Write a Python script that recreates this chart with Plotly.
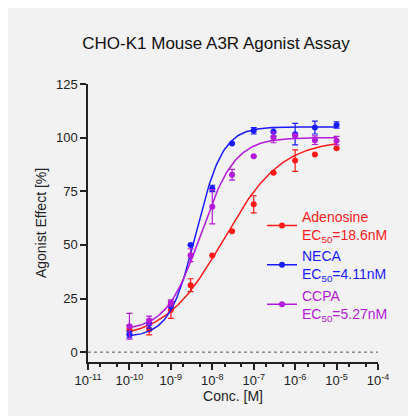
import numpy as np
import plotly.graph_objects as go

conc = [1e-10, 3e-10, 1e-9, 3e-9, 1e-8, 3e-8, 1e-7, 3e-7, 1e-6, 3e-6, 1e-5]

adenosine = [10.5, 10.5, 19.7, 31.2, 45.0, 56.3, 68.9, 83.6, 89.3, 92.1, 95.0]
adenosine_err = [2.0, 2.5, 4.0, 3.0, 0, 0, 4.0, 0, 5.0, 0, 0]
neca = [8.2, 13.2, 21.4, 50.0, 76.3, 97.3, 103.2, 102.7, 101.6, 104.7, 105.9]
neca_err = [1.5, 2.0, 0, 0, 1.5, 0, 1.5, 2.0, 5.0, 3.0, 1.5]
ccpa = [12.1, 14.8, 22.9, 45.2, 67.8, 82.7, 91.3, 100.1, 100.9, 98.8, 98.6]
ccpa_err = [6.0, 2.0, 1.5, 3.0, 8.0, 2.5, 0, 2.5, 0, 2.0, 2.0]

# 4PL fit parameters (bottom, top, EC50, hill)
fits = {
    "Adenosine": (6.0, 99.0, 18.6e-9, 0.62),
    "NECA": (7.0, 105.0, 4.11e-9, 1.35),
    "CCPA": (10.0, 100.0, 5.27e-9, 1.05),
}
ec50_txt = {"Adenosine": "18.6nM", "NECA": "4.11nM", "CCPA": "5.27nM"}
colors = {"Adenosine": "#ff1a1a", "NECA": "#1a1aff", "CCPA": "#b31ad9"}
series = {"Adenosine": (adenosine, adenosine_err),
          "NECA": (neca, neca_err),
          "CCPA": (ccpa, ccpa_err)}

xs = np.logspace(-10, -5, 200)

fig = go.Figure()
for name, (vals, errs) in series.items():
    b, t, ec, h = fits[name]
    fit = b + (t - b) / (1 + (ec / xs) ** h)
    c = colors[name]
    fig.add_trace(go.Scatter(x=xs, y=fit, mode="lines", line=dict(color=c, width=1.5),
                             showlegend=False, hoverinfo="skip"))
    fig.add_trace(go.Scatter(
        x=conc, y=vals, mode="markers", marker=dict(color=c, size=6),
        error_y=dict(type="data", array=errs, color=c, thickness=1.2, width=3),
        showlegend=False))
    # legend-only entry with line + marker
    fig.add_trace(go.Scatter(
        x=[None], y=[None], mode="lines+markers",
        line=dict(color=c, width=1.5), marker=dict(color=c, size=6),
        name=f"{name}<br>EC<sub>50</sub>={ec50_txt[name]}"))

fig.add_shape(type="line", xref="paper", x0=0, x1=1, y0=0, y1=0,
              line=dict(color="#555", width=1, dash="dot"))

fig.update_layout(
    width=416, height=416, paper_bgcolor="#f2f2f2", plot_bgcolor="#f2f2f2",
    margin=dict(l=80, r=46, t=76, b=62),
    font=dict(family="Liberation Sans, Arial", size=13, color="#222"),
    title=dict(text="CHO-K1 Mouse A3R Agonist Assay", x=0.5, xanchor="center",
               y=0.93, font=dict(size=17, color="#111")),
    legend=dict(x=0.6, y=0.58, xanchor="left", yanchor="top", bgcolor="rgba(0,0,0,0)",
                font=dict(size=14), itemwidth=30, tracegroupgap=2),
)
fig.update_xaxes(
    type="log", range=[-11, -4], showgrid=False, zeroline=False,
    showline=True, linecolor="#222", linewidth=1.5, ticks="outside", ticklen=6,
    tickwidth=1.5, tickcolor="#222",
    tickvals=[10.0 ** k for k in range(-11, -3)],
    ticktext=[f"10<sup>{k}</sup>" for k in range(-11, -3)],
    minor=dict(ticks="outside", ticklen=3, tickcolor="#222", showgrid=False),
    title=dict(text="Conc. [M]", font=dict(size=14), standoff=2),
)
fig.update_yaxes(
    range=[-4.6, 125], showgrid=False, zeroline=False, showline=True,
    linecolor="#222", linewidth=1.5, ticks="outside", ticklen=6, tickwidth=1.5,
    tickcolor="#222", tickvals=[0, 25, 50, 75, 100, 125],
    title=dict(text="Agonist Effect [%]", font=dict(size=14), standoff=6),
)

fig.write_html("out.html", post_script="""
var items = document.querySelectorAll('.legendtext');
var cols = ['#ff1a1a', '#1a1aff', '#b31ad9'];
items.forEach(function(el, i){ el.style.fill = cols[i]; });
""")
